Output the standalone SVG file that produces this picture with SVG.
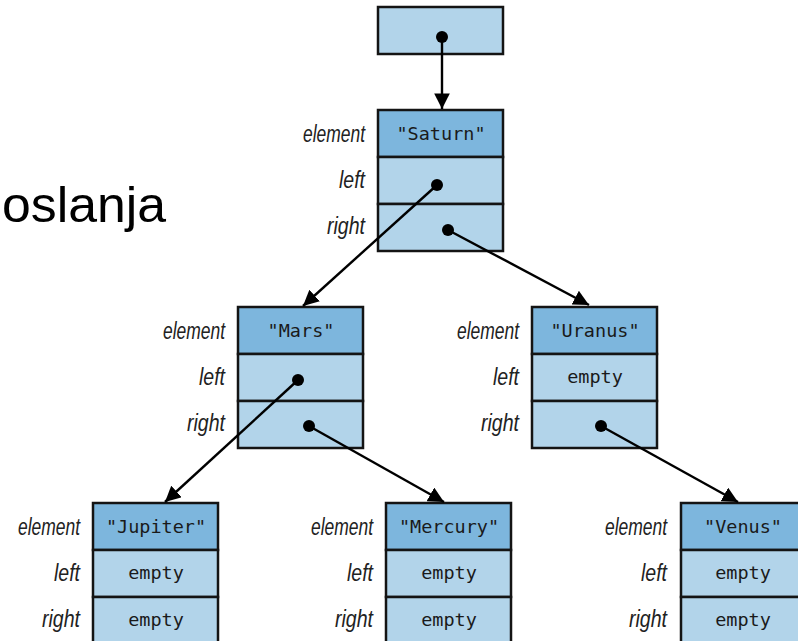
<svg xmlns="http://www.w3.org/2000/svg" width="798" height="641" viewBox="0 0 798 641">
<style>
.cell{stroke:#141414;stroke-width:2.5}
.dark{fill:#7db6dd}
.light{fill:#b2d4ea}
.lbl{font-family:"Liberation Sans",Arial,sans-serif;font-style:italic;font-size:23px;fill:#222;text-anchor:end}
.val{font-family:"DejaVu Sans Mono","Liberation Mono",monospace;font-size:18.5px;fill:#1a1a1a;text-anchor:middle}
.con{stroke:#000;stroke-width:2.4;fill:none;marker-end:url(#ah)}
.dot{fill:#000}
</style>
<defs>
<marker id="ah" viewBox="0 0 10 10" refX="10" refY="5" markerWidth="6.5" markerHeight="6.5" markerUnits="strokeWidth" orient="auto">
<path d="M0,0 L10,5 L0,10 z" fill="#000"/>
</marker>
</defs>
<rect width="798" height="641" fill="#fff"/>
<text x="2" y="222" font-family="'Liberation Sans',Arial,sans-serif" font-size="50" fill="#000" textLength="164" lengthAdjust="spacingAndGlyphs">oslanja</text>

<g id="root">
<rect class="cell light" x="378" y="7" width="125" height="47"/>
</g>

<g id="saturn">
<rect class="cell dark" x="378" y="110" width="125" height="47"/>
<rect class="cell light" x="378" y="157" width="125" height="47"/>
<rect class="cell light" x="378" y="204" width="125" height="47"/>
<text class="lbl" x="365" y="142" textLength="62" lengthAdjust="spacingAndGlyphs">element</text>
<text class="lbl" x="365" y="188" textLength="26" lengthAdjust="spacingAndGlyphs">left</text>
<text class="lbl" x="365" y="234" textLength="38" lengthAdjust="spacingAndGlyphs">right</text>
<text class="val" x="441" y="140">"Saturn"</text>
</g>

<g id="mars">
<rect class="cell dark" x="238" y="307" width="125" height="47"/>
<rect class="cell light" x="238" y="354" width="125" height="47"/>
<rect class="cell light" x="238" y="401" width="125" height="47"/>
<text class="lbl" x="225" y="339" textLength="62" lengthAdjust="spacingAndGlyphs">element</text>
<text class="lbl" x="225" y="385" textLength="26" lengthAdjust="spacingAndGlyphs">left</text>
<text class="lbl" x="225" y="431" textLength="38" lengthAdjust="spacingAndGlyphs">right</text>
<text class="val" x="301" y="337">"Mars"</text>
</g>

<g id="uranus">
<rect class="cell dark" x="532" y="307" width="125" height="47"/>
<rect class="cell light" x="532" y="354" width="125" height="47"/>
<rect class="cell light" x="532" y="401" width="125" height="47"/>
<text class="lbl" x="519" y="339" textLength="62" lengthAdjust="spacingAndGlyphs">element</text>
<text class="lbl" x="519" y="385" textLength="26" lengthAdjust="spacingAndGlyphs">left</text>
<text class="lbl" x="519" y="431" textLength="38" lengthAdjust="spacingAndGlyphs">right</text>
<text class="val" x="595" y="337">"Uranus"</text>
<text class="val" x="595" y="383">empty</text>
</g>

<g id="jupiter">
<rect class="cell dark" x="93" y="503" width="125" height="47"/>
<rect class="cell light" x="93" y="550" width="125" height="47"/>
<rect class="cell light" x="93" y="597" width="125" height="47"/>
<text class="lbl" x="80" y="535" textLength="62" lengthAdjust="spacingAndGlyphs">element</text>
<text class="lbl" x="80" y="581" textLength="26" lengthAdjust="spacingAndGlyphs">left</text>
<text class="lbl" x="80" y="627" textLength="38" lengthAdjust="spacingAndGlyphs">right</text>
<text class="val" x="156" y="533">"Jupiter"</text>
<text class="val" x="156" y="579">empty</text>
<text class="val" x="156" y="626">empty</text>
</g>

<g id="mercury">
<rect class="cell dark" x="386" y="503" width="125" height="47"/>
<rect class="cell light" x="386" y="550" width="125" height="47"/>
<rect class="cell light" x="386" y="597" width="125" height="47"/>
<text class="lbl" x="373" y="535" textLength="62" lengthAdjust="spacingAndGlyphs">element</text>
<text class="lbl" x="373" y="581" textLength="26" lengthAdjust="spacingAndGlyphs">left</text>
<text class="lbl" x="373" y="627" textLength="38" lengthAdjust="spacingAndGlyphs">right</text>
<text class="val" x="449" y="533">"Mercury"</text>
<text class="val" x="449" y="579">empty</text>
<text class="val" x="449" y="626">empty</text>
</g>

<g id="venus">
<rect class="cell dark" x="681" y="503" width="125" height="47"/>
<rect class="cell light" x="681" y="550" width="125" height="47"/>
<rect class="cell light" x="681" y="597" width="125" height="47"/>
<text class="lbl" x="667" y="535" textLength="62" lengthAdjust="spacingAndGlyphs">element</text>
<text class="lbl" x="667" y="581" textLength="26" lengthAdjust="spacingAndGlyphs">left</text>
<text class="lbl" x="667" y="627" textLength="38" lengthAdjust="spacingAndGlyphs">right</text>
<text class="val" x="743" y="533">"Venus"</text>
<text class="val" x="743" y="579">empty</text>
<text class="val" x="743" y="626">empty</text>
</g>

<g id="connectors">
<line class="con" x1="442" y1="37" x2="442" y2="109"/>
<line class="con" x1="437" y1="185" x2="303" y2="306"/>
<line class="con" x1="448" y1="230" x2="589" y2="305"/>
<line class="con" x1="298" y1="380" x2="165" y2="502"/>
<line class="con" x1="309" y1="426" x2="444" y2="502"/>
<line class="con" x1="601" y1="426" x2="738" y2="502"/>
<circle class="dot" cx="442" cy="37" r="6"/>
<circle class="dot" cx="437" cy="185" r="6"/>
<circle class="dot" cx="448" cy="230" r="6"/>
<circle class="dot" cx="298" cy="380" r="6"/>
<circle class="dot" cx="309" cy="426" r="6"/>
<circle class="dot" cx="601" cy="426" r="6"/>
</g>
</svg>
